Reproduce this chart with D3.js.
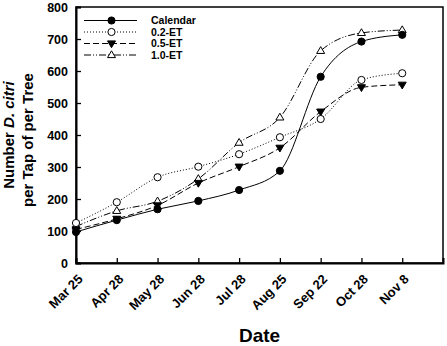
<!DOCTYPE html>
<html>
<head>
<meta charset="utf-8">
<script src="https://cdn.jsdelivr.net/npm/d3@7"></script>
<style>
  body { margin: 0; background: #fff; }
  svg text { font-family: "Liberation Sans", Arial, sans-serif; font-weight: bold; }
</style>
</head>
<body>
<div id="chart"></div>
<script>
const dates = ["Mar 25", "Apr 28", "May 28", "Jun 28", "Jul 28", "Aug 25", "Sep 22", "Oct 28", "Nov 8"];
const calendar = [97, 134, 168, 194, 228, 288, 582, 692, 713];
const et02 = [125, 190, 268, 301, 340, 393, 450, 572, 593];
const et05 = [105, 138, 180, 250, 301, 360, 473, 549, 557];
const et10 = [114, 163, 193, 263, 376, 455, 663, 719, 728];
const seriesNames = ["Calendar", "0.2-ET", "0.5-ET", "1.0-ET"];
const yTicks = [0, 100, 200, 300, 400, 500, 600, 700, 800];

const width = 447,
  height = 346,
  plotLeft = 76,
  plotRight = 443,
  plotTop = 7,
  plotBottom = 263;

const series = [
  { name: seriesNames[0], values: calendar, dash: null, marker: "circle", fill: "#000" },
  { name: seriesNames[1], values: et02, dash: "1,2", marker: "circle", fill: "#fff" },
  { name: seriesNames[2], values: et05, dash: "6,3", marker: "tridown", fill: "#000" },
  { name: seriesNames[3], values: et10, dash: "7,2,1,2,1,2", marker: "triup", fill: "#fff" },
];

const svg = d3.select("#chart").append("svg").attr("width", width).attr("height", height);

const x = d3.scaleLinear().domain([0, dates.length]).range([plotLeft, plotRight]);
const y = d3.scaleLinear().domain([0, 800]).range([plotBottom, plotTop]);

// frame
svg.append("rect").attr("x", plotLeft).attr("y", plotTop).attr("width", plotRight - plotLeft).attr("height", plotBottom - plotTop)
  .attr("fill", "none").attr("stroke", "#000").attr("stroke-width", 1.5);

// axes
let yAxis = svg.append("g").attr("transform", `translate(${plotLeft},0)`)
  .call(d3.axisLeft(y).tickValues(yTicks).tickSize(-5).tickPadding(8));
yAxis.select(".domain").attr("stroke-width", 2);
yAxis.selectAll("line").attr("stroke-width", 1.3);
yAxis.selectAll("text").attr("font-size", 12.5).attr("fill", "#000").style("font-family", "Liberation Sans, Arial").style("font-weight", "bold");

let xAxis = svg.append("g").attr("transform", `translate(0,${plotBottom})`)
  .call(d3.axisBottom(x).tickValues(d3.range(dates.length)).tickSize(-5).tickFormat((i) => dates[i]));
xAxis.select(".domain").attr("stroke-width", 2);
xAxis.selectAll("line").attr("stroke-width", 1.3);
xAxis.selectAll("text")
  .attr("font-size", 13).attr("fill", "#000")
  .style("font-family", "Liberation Sans, Arial").style("font-weight", "bold")
  .attr("text-anchor", "end")
  .attr("y", 0).attr("dy", 0)
  .attr("transform", "translate(7,17) rotate(-45)");

// titles
svg.append("text").attr("x", (plotLeft + plotRight) / 2).attr("y", 342).attr("text-anchor", "middle")
  .attr("font-size", 19).text("Date");

let yTitle = svg.append("text").attr("transform", `translate(14,${(plotTop + plotBottom) / 2}) rotate(-90)`)
  .attr("text-anchor", "middle").attr("font-size", 15);
yTitle.append("tspan").attr("x", 0).attr("dy", 0).text("Number ");
yTitle.append("tspan").attr("font-style", "italic").text("D. citri");
svg.append("text").attr("transform", `translate(33,${(plotTop + plotBottom) / 2 + 5}) rotate(-90)`)
  .attr("text-anchor", "middle").attr("font-size", 15).text("per Tap of per Tree");

// lines
const line = d3.line().x((d, i) => x(i)).y((d) => y(d)).curve(d3.curveMonotoneX);

function marker(g, type, fill, cx, cy) {
  if (type == "circle") {
    g.append("circle").attr("cx", cx).attr("cy", cy).attr("r", 3.6).attr("fill", fill).attr("stroke", "#000").attr("stroke-width", 1);
  } else {
    let s = type == "triup" ? -1 : 1;
    let pts = [[cx - 4, cy - s * 2.6], [cx + 4, cy - s * 2.6], [cx, cy + s * 4.2]];
    g.append("polygon").attr("points", pts.map((p) => p.join(",")).join(" ")).attr("fill", fill).attr("stroke", "#000").attr("stroke-width", 1);
  }
}

let plot = svg.append("g");
series.slice().reverse().forEach((s) => {
  plot.append("path").attr("d", line(s.values)).attr("fill", "none").attr("stroke", "#000").attr("stroke-width", 1)
    .attr("stroke-dasharray", s.dash);
});
series.slice().reverse().forEach((s) => {
  s.values.forEach((v, i) => marker(plot, s.marker, s.fill, x(i), y(v)));
});

// legend
let legend = svg.append("g");
series.forEach((s, i) => {
  let ly = 20.5 + i * 11.5;
  legend.append("line").attr("x1", 84).attr("x2", 137).attr("y1", ly).attr("y2", ly)
    .attr("stroke", "#000").attr("stroke-width", 1).attr("stroke-dasharray", s.dash);
  marker(legend, s.marker, s.fill, 111.5, ly);
  legend.append("text").attr("x", 151).attr("y", ly).attr("dy", "0.35em").attr("font-size", 10.5).text(s.name);
});
</script>
</body>
</html>
